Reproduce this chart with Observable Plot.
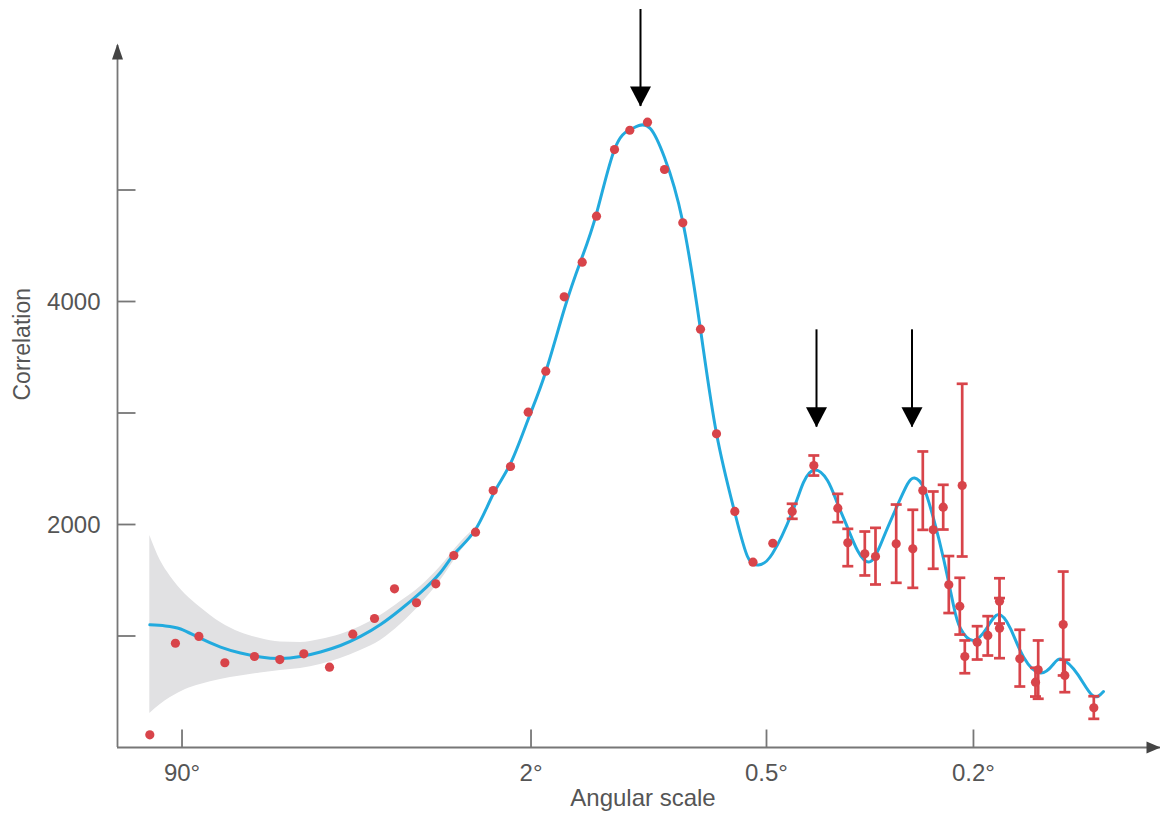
<!DOCTYPE html>
<html>
<head>
<meta charset="utf-8">
<script src="https://cdn.jsdelivr.net/npm/d3@7"></script>
<script src="https://cdn.jsdelivr.net/npm/@observablehq/plot@0.6"></script>
<style>
  html, body { margin: 0; padding: 0; background: #fff; }
  #chart { width: 1160px; height: 820px; }
</style>
</head>
<body>
<div id="chart"></div>
<script>
// ---- Data (multipole l; x axis labelled as angular scale ≈ 180°/l) ----
const pointMultipole = [1.06, 1.77, 2.69, 4.08, 6.26, 8.73, 11.69, 15.63, 19.99, 24.82, 30.0, 36.6, 43.23, 50.19, 59.67, 68.34, 77.69, 88.23, 99.73, 112.93, 127.06, 139.2, 155.69, 170.83, 189.69, 209.23, 231.92, 255.57, 278.47, 306.5, 336.43, 371.43, 408.3, 452.51, 505.74, 529.24, 571.09, 598.66, 654.83, 702.66, 732.7, 764.96, 796.98, 815.34, 852.33, 860.56, 869.55, 913.39, 952.15, 996.37, 996.37, 1076.71, 1142.1, 1153.65, 1264.69, 1272.06, 1411.3];
const pointValue = [114, 935, 996, 760, 816, 789, 840, 720, 1016, 1157, 1423, 1298, 1468, 1722, 1931, 2305, 2520, 3007, 3375, 4042, 4353, 4765, 5363, 5536, 5608, 5184, 4706, 3752, 2813, 2117, 1662, 1832, 2117, 2529, 2146, 1836, 1737, 1713, 1827, 1782, 2305, 1953, 2155, 1459, 1267, 2350, 816, 944, 1005, 1312, 1070, 796, 586, 697, 1103, 646, 356];
const pointLow = [null, null, null, null, null, null, null, null, null, null, null, null, null, null, null, null, null, null, null, null, null, null, null, null, null, null, null, null, null, null, null, null, 2051, 2439, 2021, 1626, 1543, 1462, 1477, 1432, 1952, 1603, 1955, 1206, 1013, 1713, 666, 789, 825, 1112, 801, 547, 457, 437, 646, 496, 257];
const pointHigh = [null, null, null, null, null, null, null, null, null, null, null, null, null, null, null, null, null, null, null, null, null, null, null, null, null, null, null, null, null, null, null, null, 2186, 2619, 2275, 1961, 1937, 1970, 2179, 2132, 2655, 2296, 2356, 1717, 1522, 3262, 960, 1088, 1178, 1518, 1340, 1056, 715, 960, 1578, 787, 460];

const modelMultipole = [1.06, 1.46, 1.95, 2.67, 3.82, 5.14, 6.79, 8.81, 11.24, 14.15, 17.59, 21.62, 26.3, 31.71, 37.91, 44.97, 50.89, 59.67, 68.49, 77.69, 88.42, 99.53, 113.15, 125.67, 139.2, 155.69, 170.52, 180.45, 193.03, 209.23, 231.53, 255.57, 278.47, 306.03, 327.17, 345.89, 370.88, 408.89, 431, 454, 482.35, 505.04, 528.53, 552.83, 585.65, 619.92, 655.67, 687.11, 707.7, 734.84, 765.91, 797.96, 830.99, 854.72, 900.14, 951.04, 992.53, 1039.32, 1091.86, 1163.54, 1220.69, 1261.48, 1331.7, 1404.83, 1460.34];
const modelValue = [1100, 1090, 1063, 987, 901, 848, 812, 798, 816, 857, 915, 996, 1103, 1238, 1390, 1570, 1749, 1955, 2278, 2547, 2951, 3363, 3937, 4359, 4789, 5363, 5538, 5579, 5549, 5291, 4726, 3749, 2816, 2117, 1713, 1637, 1740, 2117, 2377, 2489, 2395, 2188, 1973, 1767, 1668, 1883, 2153, 2363, 2417, 2332, 2054, 1695, 1274, 1067, 960, 1081, 1193, 1067, 812, 668, 749, 789, 659, 466, 502];

const bandMultipole = [1.06, 1.32, 1.61, 2.13, 2.76, 3.82, 5.14, 6.79, 8.81, 11.24, 14.15, 17.59, 21.62, 26.3, 31.71, 37.91, 44.97, 52.99, 57.37];
const bandHigh = [1901, 1677, 1534, 1372, 1256, 1121, 1031, 978, 946, 942, 969, 1014, 1085, 1184, 1309, 1444, 1623, 1839, 1928];
const bandLow = [305, 386, 448, 520, 565, 610, 641, 668, 691, 709, 744, 798, 870, 960, 1103, 1283, 1498, 1758, 1874];

const arrowMultipole = [182.05, 458.27, 700.29];
const arrowTop = [6619, 3746, 3746];
const arrowTip = [5749, 2873, 2873];

const xTickMultipole = [2, 90, 360, 900];
const xTickLabels = ["90°", "2°", "0.5°", "0.2°"];
const yTickValues = [1000, 2000, 3000, 4000, 5000];
const yLabelValues = [2000, 4000];
const yLabels = ["2000", "4000"];

// ---- Build tables ----
const points = pointMultipole.map((l, i) => ({l, v: pointValue[i], lo: pointLow[i], hi: pointHigh[i]}));
const errPoints = points.filter(d => d.lo != null && d.hi != null);
const model = modelMultipole.map((l, i) => ({l, v: modelValue[i]}));
const band = bandMultipole.map((l, i) => ({l, lo: bandLow[i], hi: bandHigh[i]}));
const arrows = arrowMultipole.map((l, i) => ({l, top: arrowTop[i], tip: arrowTip[i]}));

const X_MIN = 0.497, X_MAX = 1774.75, Y_MAX = 6296;
const RED = "#d8444a", BLUE = "#22aade", AXIS = "#777", TEXT = "#555";

// custom symbols
const capSym = {draw(ctx, size) { const r = Math.sqrt(size / Math.PI); ctx.moveTo(-r, 0); ctx.lineTo(r, 0); }};
const downTri = {draw(ctx) { ctx.moveTo(-10.5, -20); ctx.lineTo(10.5, -20); ctx.lineTo(0, 0); ctx.closePath(); }};
const upTri = {draw(ctx) { ctx.moveTo(0, -2); ctx.lineTo(5.5, 14); ctx.lineTo(-5.5, 14); ctx.closePath(); }};
const rightTri = {draw(ctx) { ctx.moveTo(0, 0); ctx.lineTo(-14, -6); ctx.lineTo(-14, 6); ctx.closePath(); }};
const xTickSym = {draw(ctx) { ctx.moveTo(0, 0); ctx.lineTo(0, -18); }};
const yTickSym = {draw(ctx) { ctx.moveTo(0, 0); ctx.lineTo(18, 0); }};

const chart = Plot.plot({
  width: 1160,
  height: 820,
  marginLeft: 117,
  marginRight: 0,
  marginTop: 45,
  marginBottom: 73,
  style: {fontFamily: "Helvetica, 'Liberation Sans', Arial, sans-serif", background: "#fff"},
  x: {type: "pow", exponent: 0.25, domain: [X_MIN, X_MAX], range: [117, 1160], axis: null},
  y: {domain: [0, Y_MAX], range: [747, 45], axis: null},
  marks: [
    Plot.areaY(band, {x: "l", y1: "lo", y2: "hi", fill: "#e1e1e3", curve: "monotone-x"}),
    Plot.line(model, {x: "l", y: "v", stroke: BLUE, strokeWidth: 3, curve: "natural"}),
    Plot.ruleX(errPoints, {x: "l", y1: "lo", y2: "hi", stroke: RED, strokeWidth: 2.7}),
    Plot.dot(errPoints, {x: "l", y: "hi", symbol: capSym, r: 5.5, stroke: RED, strokeWidth: 2.7, fill: "none"}),
    Plot.dot(errPoints, {x: "l", y: "lo", symbol: capSym, r: 5.5, stroke: RED, strokeWidth: 2.7, fill: "none"}),
    Plot.dot(points, {x: "l", y: "v", r: 4.6, fill: RED, stroke: "none"}),
    // annotation arrows
    Plot.ruleX(arrows, {x: "l", y1: "top", y2: "tip", stroke: "#000", strokeWidth: 2}),
    Plot.dot(arrows, {x: "l", y: "tip", symbol: downTri, r: 1, fill: "#000", stroke: "none"}),
    // axes
    Plot.ruleX([X_MIN], {y1: () => 0, y2: () => Y_MAX, stroke: AXIS, strokeWidth: 1.8}),
    Plot.ruleY([0], {x1: () => X_MIN, x2: () => X_MAX, stroke: AXIS, strokeWidth: 1.8}),
    Plot.dot([0], {x: () => X_MIN, y: () => Y_MAX, symbol: upTri, r: 1, fill: "#444", stroke: "none"}),
    Plot.dot([0], {x: () => X_MAX, y: () => 0, symbol: rightTri, r: 1, fill: "#444", stroke: "none"}),
    Plot.dot(xTickMultipole, {x: d => d, y: () => 0, symbol: xTickSym, r: 1, stroke: AXIS, strokeWidth: 1.8, fill: "none"}),
    Plot.dot(yTickValues, {x: () => X_MIN, y: d => d, symbol: yTickSym, r: 1, stroke: AXIS, strokeWidth: 1.8, fill: "none"}),
    Plot.text(xTickMultipole, {x: d => d, y: () => 0, text: (d, i) => xTickLabels[i], dy: 26, fontSize: 24, fill: TEXT}),
    Plot.text(yLabelValues, {x: () => X_MIN, y: d => d, text: (d, i) => yLabels[i], dx: -17, dy: 1, textAnchor: "end", fontSize: 24, fill: TEXT}),
    Plot.text(["Angular scale"], {frameAnchor: "bottom", dx: 4, dy: 58, fontSize: 24, fill: TEXT}),
    Plot.text(["Correlation"], {frameAnchor: "left", rotate: -90, dx: -95, dy: 4, fontSize: 23, fill: TEXT})
  ]
});
document.getElementById("chart").appendChild(chart);
</script>
</body>
</html>
